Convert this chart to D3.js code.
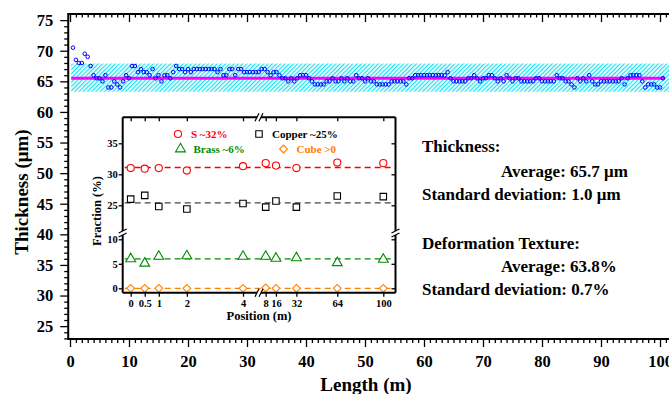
<!DOCTYPE html>
<html>
<head>
<meta charset="utf-8">
<script src="https://cdn.jsdelivr.net/npm/d3@7"></script>
<style>
  body { margin: 0; background: #fff; }
  svg { display: block; font-family: 'Liberation Serif', 'Times New Roman', serif; font-weight: bold; }
</style>
</head>
<body>
<svg id="chart" width="669" height="394"></svg>
<script>
// ---- main chart: thickness along the strip (one reading every 0.5 m) ----
const lengthStart = 0.5;
const lengthStep = 0.5;
const thickness = [
  70.5, 68.5, 68, 68, 69.5, 69, 67.5, 66, 65.5, 65.5,
  65, 66, 64, 64, 65, 64.5, 64, 65, 66, 65.5,
  67.5, 67.5, 66.5, 67, 66.5, 66.5, 66, 67, 65.5, 66,
  65, 66, 66, 65.5, 66.5, 67.5, 67, 67, 66.5, 67,
  66.5, 67, 67, 67, 67, 67, 67, 67, 67, 66.5,
  67, 66, 66,
  67, 67, 66, 67, 67,
  66.5, 66.5, 66.5, 66.5, 66.5, 66.5,
  67, 67, 66.5, 66, 66.5, 66.5, 66,
  65.5, 65.5, 65, 65.5, 65, 65.5, 66, 66, 66, 65.5, 65,
  64.5, 64.5, 64.5, 64.5, 65, 65, 65.5, 65, 65, 65.5, 65, 65.5, 65, 65, 66, 65.5, 65.5, 65, 65.5, 65, 65,
  64.5, 64.5, 64.5, 64.5, 64.5, 65, 65, 65, 65, 65, 64.5, 65.5, 65.5,
  66, 66, 66, 66, 66, 66, 66, 66, 66, 66, 66, 66.5,
  65.5, 65, 65, 65, 65, 65, 65.5, 65.5, 66, 65.5,
  65, 65.5, 65.5, 66, 66, 65.5, 65, 65.5, 65, 66,
  65.5, 65, 65.5, 65.5, 65, 65, 65, 65, 65, 65.5,
  65.5, 65, 65, 65, 65, 65, 66, 65.5, 65.5, 65,
  65, 64.5, 64, 65.5, 65, 65.5, 65, 66, 65, 64.5,
  64.5, 65, 65, 65, 65, 65, 65, 65, 65.5, 64.5,
  65.5, 66, 66, 66, 66, 65, 64, 64.5, 64.5, 64.5,
  64, 64, 65.5
];
const meanLineValue = 65.5;
const meanLineExtent = [0.2, 100.8];
const bandValues = [63.3, 67.9];
const bandExtent = [0.2, 103];

const lengthTicks = [0, 10, 20, 30, 40, 50, 60, 70, 80, 90, 100];
const thicknessTicks = [25, 30, 35, 40, 45, 50, 55, 60, 65, 70, 75];

// ---- inset: texture fractions vs position ----
const positions = [0, 0.5, 1, 2, 4, 8, 16, 32, 64, 100];
const positionLabels = ['0', '0.5', '1', '2', '4', '8', '16', '32', '64', '100'];
const sFraction = [31.0, 30.9, 31.0, 30.6, 31.3, 31.8, 31.4, 31.0, 31.9, 31.8];
const copperFraction = [26.0, 26.6, 24.8, 24.4, 25.3, 24.7, 25.7, 24.7, 26.5, 26.4];
const brassFraction = [6.0, 5.1, 6.5, 6.6, 6.5, 6.5, 6.1, 6.2, 5.2, 5.9];
const cubeFraction = [0, 0, 0, 0, 0, 0.1, 0, 0, 0, 0];
const fractionAverages = [31.1, 25.4, 6.0, 0];
const seriesNames = ['S ~32%', 'Copper ~25%', 'Brass ~6%', 'Cube >0'];
const upperFractionTicks = [25, 30, 35];
const lowerFractionTicks = [0, 5, 10];

const statsLines = [
  {text: 'Thickness:', indent: false},
  {text: 'Average: 65.7 \u03bcm', indent: true},
  {text: 'Standard deviation: 1.0 \u03bcm', indent: false},
  {text: 'Deformation Texture:', indent: false},
  {text: 'Average: 63.8%', indent: true},
  {text: 'Standard deviation: 0.7%', indent: false}
];

const svg = d3.select('#chart');

// main scales
const x = d3.scaleLinear().domain([0, 100]).range([70, 660]);
const y = d3.scaleLinear().domain([22.9, 76]).range([339, 14]);
const plotLeft = x(-0.3), plotRight = x(103), plotTop = y(76), plotBottom = y(22.9);

function styleAxis (g, size) {
  g.attr('font-family', null).attr('font-size', size).attr('font-weight', 'bold');
  g.select('.domain').remove();
  g.selectAll('line').attr('stroke', '#000').attr('stroke-width', 1.3);
  g.selectAll('text').attr('fill', '#000');
}

// hatched band
const defs = svg.append('defs');
const pat = defs.append('pattern')
  .attr('id', 'hatch')
  .attr('patternUnits', 'userSpaceOnUse')
  .attr('width', 3)
  .attr('height', 3)
  .attr('patternTransform', 'rotate(45)');
pat.append('rect').attr('width', 3).attr('height', 3).attr('fill', '#fff');
pat.append('line')
  .attr('x1', 0.6).attr('y1', 0).attr('x2', 0.6).attr('y2', 3)
  .attr('stroke', '#19e3f3')
  .attr('stroke-width', 1.3);

svg.append('rect')
  .attr('x', x(bandExtent[0]))
  .attr('y', y(bandValues[1]))
  .attr('width', x(bandExtent[1]) - x(bandExtent[0]))
  .attr('height', y(bandValues[0]) - y(bandValues[1]))
  .attr('fill', 'url(#hatch)');

// minor ticks first
const minorY = d3.range(23, 76, 1).filter(v => v % 5 !== 0);
const minorX = d3.range(0, 103, 1).filter(v => v % 10 !== 0);

svg.append('g').attr('transform', `translate(${plotLeft},0)`)
  .call(d3.axisLeft(y).tickValues(minorY).tickSize(4).tickFormat(''))
  .call(g => styleAxis(g, 10));
svg.append('g').attr('transform', `translate(${plotLeft},0)`)
  .call(d3.axisLeft(y).tickValues(thicknessTicks).tickSize(8).tickPadding(7))
  .call(g => styleAxis(g, 16.5));

svg.append('g').attr('transform', `translate(0,${plotBottom})`)
  .call(d3.axisBottom(x).tickValues(minorX).tickSize(4).tickFormat(''))
  .call(g => styleAxis(g, 10));
svg.append('g').attr('transform', `translate(0,${plotBottom})`)
  .call(d3.axisBottom(x).tickValues(lengthTicks).tickSize(8).tickPadding(8))
  .call(g => styleAxis(g, 16.5));

svg.append('g').attr('transform', `translate(0,${plotTop})`)
  .call(d3.axisTop(x).tickValues(minorX).tickSize(-3.5).tickFormat(''))
  .call(g => styleAxis(g, 10));
svg.append('g').attr('transform', `translate(0,${plotTop})`)
  .call(d3.axisTop(x).tickValues(lengthTicks).tickSize(-8).tickFormat(''))
  .call(g => styleAxis(g, 10));

// frame
svg.append('path')
  .attr('d', `M${plotRight},${plotTop}H${plotLeft}V${plotBottom}H${plotRight}`)
  .attr('fill', 'none')
  .attr('stroke', '#000')
  .attr('stroke-width', 2);

// mean line
svg.append('line')
  .attr('x1', x(meanLineExtent[0]))
  .attr('x2', x(meanLineExtent[1]))
  .attr('y1', y(meanLineValue))
  .attr('y2', y(meanLineValue))
  .attr('stroke', '#ff00ff')
  .attr('stroke-width', 3.2);

// thickness points
svg.append('g')
  .selectAll('circle')
  .data(thickness)
  .join('circle')
  .attr('cx', (d, i) => x(lengthStart + i * lengthStep))
  .attr('cy', d => y(d))
  .attr('r', 1.8)
  .attr('fill', 'none')
  .attr('stroke', '#0000ff')
  .attr('stroke-width', 1);

// axis titles
svg.append('text')
  .attr('transform', 'translate(28,192) rotate(-90)')
  .attr('text-anchor', 'middle')
  .attr('font-size', 19)
  .text('Thickness (\u03bcm)');
svg.append('text')
  .attr('x', 366)
  .attr('y', 391)
  .attr('text-anchor', 'middle')
  .attr('font-size', 19)
  .text('Length (m)');

// stats text
const statsY = [152, 176.5, 200, 249, 271.5, 295];
svg.append('g')
  .attr('font-size', 17)
  .selectAll('text')
  .data(statsLines)
  .join('text')
  .attr('x', d => d.indent ? 501 : 422)
  .attr('y', (d, i) => statsY[i])
  .text(d => d.text);

// ---- inset ----
const inL = 122.7, inR = 395.5, inT = 117.3, inB = 292.7;
const xBreak = [257, 261], yBreak = [231, 235];
const xLeft = d3.scaleLinear().domain([0, 4]).range([130.7, 243]);
const xRight = d3.scaleLinear().domain([8, 100]).range([265.7, 383.3]);
const yUpper = d3.scaleLinear().domain([25, 35]).range([205.3, 143.3]);
const yLower = d3.scaleLinear().domain([0, 10]).range([288.3, 239.3]);
const px = p => p <= 4.5 ? xLeft(p) : xRight(p);
const py = v => v > 15 ? yUpper(v) : yLower(v);

const inset = svg.append('g');
inset.append('rect')
  .attr('x', inL).attr('y', inT)
  .attr('width', inR - inL).attr('height', inB - inT)
  .attr('fill', '#fff');

const colors = ['#ff0000', '#000000', '#008c00', '#ff8000'];
const lineColors = ['#ff0000', '#444444', '#008c00', '#ff8000'];
const symbols = [d3.symbolCircle, d3.symbolSquare, d3.symbolTriangle, d3.symbolSquare];
const symbolSizes = [40, 42, 42, 30];
const symbolRotate = [0, 0, 0, 45];
const series = [sFraction, copperFraction, brassFraction, cubeFraction];

// dashed averages
inset.append('g')
  .selectAll('line')
  .data(fractionAverages)
  .join('line')
  .attr('x1', inL + 2)
  .attr('x2', inR - 2)
  .attr('y1', d => py(d))
  .attr('y2', d => py(d))
  .attr('stroke', (d, i) => lineColors[i])
  .attr('stroke-width', 1.3)
  .attr('stroke-dasharray', '6,4');

// markers
series.forEach((vals, k) => {
  inset.append('g')
    .selectAll('path')
    .data(vals)
    .join('path')
    .attr('d', d3.symbol().type(symbols[k]).size(symbolSizes[k]))
    .attr('transform', (d, i) => `translate(${px(positions[i])},${py(d)}) rotate(${symbolRotate[k]})`)
    .attr('fill', '#fff')
    .attr('stroke', colors[k])
    .attr('stroke-width', 1.1);
});

// inset axes
function insetAxis (axis, transform, size) {
  inset.append('g').attr('transform', transform).call(axis).call(g => styleAxis(g, size));
}
const leftPos = positions.filter(p => p <= 4.5);
const rightPos = positions.filter(p => p > 4.5);
const labelOf = p => positionLabels[positions.indexOf(p)];

insetAxis(d3.axisBottom(xLeft).tickValues(leftPos).tickSize(4).tickPadding(3).tickFormat(labelOf), `translate(0,${inB})`, 10.5);
insetAxis(d3.axisBottom(xRight).tickValues(rightPos).tickSize(4).tickPadding(3).tickFormat(labelOf), `translate(0,${inB})`, 10.5);
insetAxis(d3.axisTop(xLeft).tickValues(leftPos).tickSize(-4).tickFormat(''), `translate(0,${inT})`, 10);
insetAxis(d3.axisTop(xRight).tickValues(rightPos).tickSize(-4).tickFormat(''), `translate(0,${inT})`, 10);
insetAxis(d3.axisLeft(yUpper).tickValues(upperFractionTicks).tickSize(4).tickPadding(1), `translate(${inL},0)`, 10.5);
insetAxis(d3.axisLeft(yLower).tickValues(lowerFractionTicks).tickSize(4).tickPadding(1), `translate(${inL},0)`, 10.5);
insetAxis(d3.axisRight(yUpper).tickValues(upperFractionTicks).tickSize(-4).tickFormat(''), `translate(${inR},0)`, 10);
insetAxis(d3.axisRight(yLower).tickValues(lowerFractionTicks).tickSize(-4).tickFormat(''), `translate(${inR},0)`, 10);

// inset frame with breaks
const framePath = [
  `M${inL},${inT}V${yBreak[0]}`, `M${inL},${yBreak[1]}V${inB}`,
  `M${inR},${inT}V${yBreak[0]}`, `M${inR},${yBreak[1]}V${inB}`,
  `M${inL},${inT}H${xBreak[0]}`, `M${xBreak[1]},${inT}H${inR}`,
  `M${inL},${inB}H${xBreak[0]}`, `M${xBreak[1]},${inB}H${inR}`
].join('');
inset.append('path')
  .attr('d', framePath)
  .attr('fill', 'none')
  .attr('stroke', '#000')
  .attr('stroke-width', 2);

const breakMarks = [];
[inL, inR].forEach(ax => yBreak.forEach(by => breakMarks.push(`M${ax - 4},${by + 2}L${ax + 4},${by - 2}`)));
[inT, inB].forEach(ay => xBreak.forEach(bx => breakMarks.push(`M${bx - 2},${ay + 4}L${bx + 2},${ay - 4}`)));
inset.append('path')
  .attr('d', breakMarks.join(''))
  .attr('stroke', '#000')
  .attr('stroke-width', 1.2);

// inset titles
inset.append('text')
  .attr('transform', 'translate(101,211) rotate(-90)')
  .attr('text-anchor', 'middle')
  .attr('font-size', 12.5)
  .text('Fraction (%)');
inset.append('text')
  .attr('x', 259)
  .attr('y', 320)
  .attr('text-anchor', 'middle')
  .attr('font-size', 12.5)
  .text('Position (m)');

// legend
const legendPos = [[178, 134], [259, 134], [180.5, 149], [283.5, 149]];
const legend = inset.append('g').attr('font-size', 11);
seriesNames.forEach((name, k) => {
  const [lx, ly] = legendPos[k];
  legend.append('path')
    .attr('d', d3.symbol().type(symbols[k]).size(symbolSizes[k]))
    .attr('transform', `translate(${lx},${ly}) rotate(${symbolRotate[k]})`)
    .attr('fill', '#fff')
    .attr('stroke', colors[k])
    .attr('stroke-width', 1.1);
  legend.append('text')
    .attr('x', lx + 13)
    .attr('y', ly + 4)
    .attr('fill', colors[k])
    .text(name);
});
</script>
</body>
</html>
